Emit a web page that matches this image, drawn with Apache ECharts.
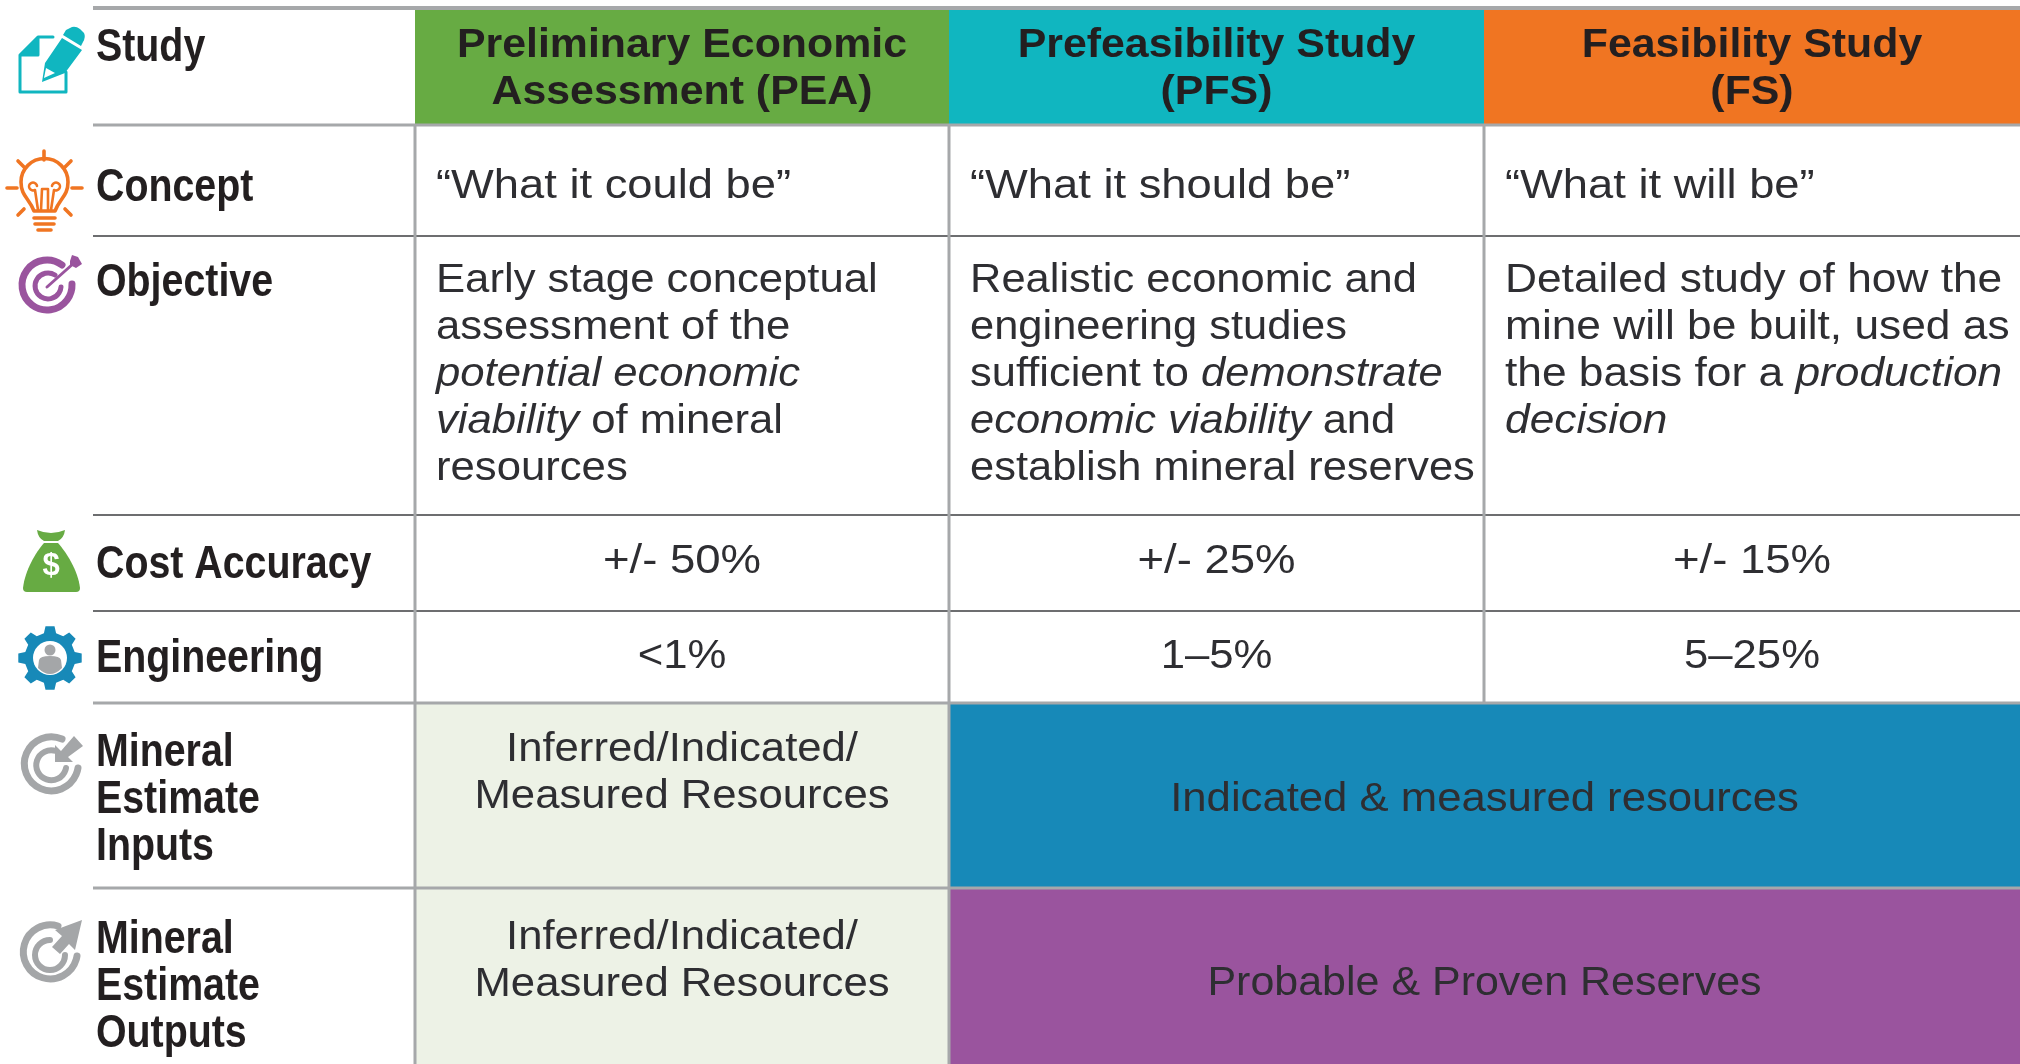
<!DOCTYPE html>
<html lang="en">
<head>
<meta charset="UTF-8">
<title>Study stages</title>
<script src="https://cdn.jsdelivr.net/npm/echarts@6/dist/echarts.min.js"></script>
<style>html,body{margin:0;padding:0;background:#fff}#main{width:2020px;height:1064px}</style>
</head>
<body>
<div id="main"></div>
<script>
var columns = ['Study', 'PEA', 'PFS', 'FS'];
var rows = ['Study', 'Concept', 'Objective', 'Cost Accuracy', 'Engineering', 'Mineral Estimate Inputs', 'Mineral Estimate Outputs'];
var rowTitles = ['Study', 'Concept', 'Objective', 'Cost Accuracy', 'Engineering', 'Mineral\nEstimate\nInputs', 'Mineral\nEstimate\nOutputs'];
var headers = ['Preliminary Economic\nAssessment (PEA)', 'Prefeasibility Study\n(PFS)', 'Feasibility Study\n(FS)'];
var concept = ['\u201cWhat it could be\u201d', '\u201cWhat it should be\u201d', '\u201cWhat it will be\u201d'];
var objective = [
    'Early stage conceptual\nassessment of the\n{i|potential economic}\n{i|viability} of mineral\nresources',
    'Realistic economic and\nengineering studies\nsufficient to {i|demonstrate}\n{i|economic viability} and\nestablish mineral reserves',
    'Detailed study of how the\nmine will be built, used as\nthe basis for a {i|production}\n{i|decision}'
];
var costAccuracy = ['+/- 50%', '+/- 25%', '+/- 15%'];
var engineering = ['<1%', '1\u20135%', '5\u201325%'];
var peaEstimate = 'Inferred/Indicated/\nMeasured Resources';
var inputsLater = 'Indicated & measured resources';
var outputsLater = 'Probable & Proven Reserves';

// layout, px
var colSize = [322, 534, 535, 536];
var rowSize = [117, 111, 279, 96, 92, 185, 176];
var GREY = '#a6a8aa', DARK = '#6d6e70', INK = '#231f20', TEXT = '#2e2e32';
var headFills = ['#67ab43', '#10b6c0', '#f07522'];

var bodyData = [];
headFills.forEach(function (c, i) {
    bodyData.push({coord: [i + 1, 0], itemStyle: {color: c, borderWidth: 0}});
});
bodyData.push({coord: [1, 5], itemStyle: {color: '#edf2e6', borderWidth: 0}});
bodyData.push({coord: [1, 6], itemStyle: {color: '#edf2e6', borderWidth: 0}});
bodyData.push({coord: [[2, 3], 5], mergeCells: true, itemStyle: {color: '#1789b8', borderWidth: 0}});
bodyData.push({coord: [[2, 3], 6], mergeCells: true, itemStyle: {color: '#9a549e', borderWidth: 0}});

// horizontal rules: row index, width, colour
var hRules = [[0, 4, GREY], [1, 3, GREY], [2, 2, DARK], [3, 2, DARK], [4, 2, DARK], [5, 3, GREY], [6, 3, GREY]];
// vertical rules: column index, first row, last row
var vRules = [[1, 1, 6], [2, 1, 6], [3, 1, 4]];

// text blocks: col range, row, text, kind, offset from cell top, width scale
var texts = [];
var titleTops = [16.5, 40, 24, 27, 25, 27, 29];
var objectiveScale = [1.065, 1.06, 1.08];
rowTitles.forEach(function (t, i) { texts.push({c0: 0, c1: 0, r: i, text: t, kind: 'title', top: titleTops[i]}); });
headers.forEach(function (t, i) { texts.push({c0: i + 1, c1: i + 1, r: 0, text: t, kind: 'head', top: 14.5}); });
concept.forEach(function (t, i) { texts.push({c0: i + 1, c1: i + 1, r: 1, text: t, kind: 'left', top: 38.5, scale: 1.105}); });
objective.forEach(function (t, i) { texts.push({c0: i + 1, c1: i + 1, r: 2, text: t, kind: 'left', top: 21.5, scale: objectiveScale[i]}); });
costAccuracy.forEach(function (t, i) { texts.push({c0: i + 1, c1: i + 1, r: 3, text: t, kind: 'mid', top: 23.5, scale: 1.11}); });
engineering.forEach(function (t, i) { texts.push({c0: i + 1, c1: i + 1, r: 4, text: t, kind: 'mid', top: 22.5}); });
texts.push({c0: 1, c1: 1, r: 5, text: peaEstimate, kind: 'mid', top: 23.5});
texts.push({c0: 1, c1: 1, r: 6, text: peaEstimate, kind: 'mid', top: 26.5});
texts.push({c0: 2, c1: 3, r: 5, text: inputsLater, kind: 'mid', top: 73.5});
texts.push({c0: 2, c1: 3, r: 6, text: outputsLater, kind: 'mid', top: 72.5, scale: 1.048});

var kinds = {
    title: {align: 'left', dx: 3, scaleX: 0.855, fontSize: 46, fontWeight: 'bold', color: INK, lineHeight: 47},
    head: {align: 'center', dx: 0, scaleX: 1.045, fontSize: 41, fontWeight: 'bold', color: INK, lineHeight: 47},
    left: {align: 'left', dx: 21, scaleX: 1.065, fontSize: 41, fontWeight: 'normal', color: TEXT, lineHeight: 47},
    mid: {align: 'center', dx: 0, scaleX: 1.065, fontSize: 41, fontWeight: 'normal', color: TEXT, lineHeight: 47}
};

function textEl(t, api) {
    var k = kinds[t.kind];
    var a = api.layout([t.c0, t.r]).rect, b = api.layout([t.c1, t.r]).rect;
    var right = b.x + b.width;
    var font = {fontFamily: '"Liberation Sans"', fontSize: k.fontSize, lineHeight: k.lineHeight, fill: k.color};
    return {
        type: 'text',
        x: k.align === 'center' ? (a.x + right) / 2 : a.x + k.dx,
        y: a.y + t.top,
        scaleX: t.scale || k.scaleX,
        style: Object.assign({}, font, {
            x: 0, y: 0, text: t.text, align: k.align, verticalAlign: 'top', fontWeight: k.fontWeight,
            rich: {i: Object.assign({}, font, {fontStyle: 'italic'})}
        })
    };
}

// icons
var TEAL = '#10b6c0', ORANGE = '#f07522', PURPLE = '#9a549e', LEAF = '#67ab43', BLUE = '#1789b8', ICON = '#a4a6a8';
function stroke(c, w) { return {stroke: c, lineWidth: w, fill: 'none', lineCap: 'round', lineJoin: 'round'}; }
function path(d, style) { return {type: 'path', shape: {pathData: d}, style: style}; }
function gearPath(cx, cy, ro, ri) {
    var d = '', n = 8;
    for (var k = 0; k < n; k++) {
        var a = k * 2 * Math.PI / n - Math.PI / 2, s = Math.PI / n;
        var pts = [[ri, a - s * 0.62], [ro, a - s * 0.36], [ro, a + s * 0.36], [ri, a + s * 0.62]];
        pts.forEach(function (p, j) {
            d += (k === 0 && j === 0 ? 'M' : 'L') + (cx + p[0] * Math.cos(p[1])).toFixed(1) + ' ' + (cy + p[0] * Math.sin(p[1])).toFixed(1);
        });
    }
    return d + 'Z';
}
var icons = [
    // study
    path('M38 37L53 37M20 55L20 92L66 92L66 72M20 55L38 37L38 55Z', stroke(TEAL, 3)),
    path('M20 55L38 37L38 55Z', {fill: TEAL}),
    path('M62 38L82 50L65 73L45 63Z M45 63L65 73L42 82Z', {fill: TEAL}),
    path('M66 30L72 27Q76 26 80 29L84 33Q86 37 83 42L81 46L63 35Z', {fill: TEAL}),
    path('M46 68L55 73L44 78Z', {fill: '#fff'}),
    // bulb
    path('M34 211C29 198 21 196 21 182A23.5 23.5 0 1 1 68 182C68 196 60 198 55 211Z M34 218L55 218 M35 224L54 224 M38 230L51 230', stroke(ORANGE, 3.6)),
    path('M38 210L35 190M51 210L54 190M41 210L42 189L48 189M48 189L48 210M35 190A4 4 0 1 1 37 186M54 190A4 4 0 1 0 52 186', stroke(ORANGE, 2.6)),
    path('M44 151L44 160M18 161L24 167M71 161L65 167M7 188L17 188M72 188L82 188M18 215L24 209M71 215L65 209', stroke(ORANGE, 3.6)),
    // target
    path('M62 265A25 25 0 1 0 72 284', stroke(PURPLE, 7)),
    path('M55 275A13 13 0 1 0 61 287', stroke(PURPLE, 5)),
    path('M47 287L74 263', stroke(PURPLE, 3)),
    path('M70 261L72 255L78 257L82 264L76 268L70 265Z', {fill: PURPLE}),
    // money bag
    path('M37 530Q51 536 65 530Q64 538 58 541L44 541Q38 538 37 530Z', {fill: LEAF}),
    path('M44 543L58 543C66 552 78 570 80 588Q80 592 76 592L27 592Q23 592 23 588C25 570 36 552 44 543Z', {fill: LEAF}),
    {type: 'text', style: {x: 51, y: 566, text: '$', align: 'center', verticalAlign: 'middle', fill: '#fff',
        font: 'bold 31px "Liberation Sans"'}},
    // gear
    path(gearPath(50, 658, 32, 25.5), {fill: BLUE}),
    {type: 'circle', shape: {cx: 50, cy: 658, r: 17}, style: {fill: '#fff'}},
    {type: 'circle', shape: {cx: 50, cy: 650, r: 5.5}, style: {fill: ICON}},
    path('M38 668L39 660Q40 656 50 656Q60 656 61 660L62 668Q56 674 50 674Q44 674 38 668Z', {fill: ICON}),
    // inputs
    path('M62 739A27 27 0 1 0 78 768', stroke(ICON, 7)),
    path('M56 751A15 15 0 1 0 66 768', stroke(ICON, 6)),
    path('M55 762L55 745L61 751L74 736L83 746L68 757L73 762Z', {fill: ICON}),
    // outputs
    path('M58 926A27 27 0 1 0 77 956', stroke(ICON, 7)),
    path('M50 940A15 15 0 1 0 65 955', stroke(ICON, 6)),
    path('M82 920L75 950L69 944L60 954L52 947L62 936L55 930Z', {fill: ICON})
];

function renderTable(params, api) {
    var children = [];
    hRules.forEach(function (r) {
        var a = api.layout([0, r[0]]).rect, b = api.layout([3, r[0]]).rect;
        children.push({type: 'line', shape: {x1: a.x, y1: a.y, x2: b.x + b.width, y2: a.y},
            style: {stroke: r[2], lineWidth: r[1]}});
    });
    vRules.forEach(function (r) {
        var a = api.layout([r[0], r[1]]).rect, b = api.layout([r[0], r[2]]).rect;
        children.push({type: 'line', shape: {x1: a.x, y1: a.y, x2: a.x, y2: b.y + b.height},
            style: {stroke: GREY, lineWidth: 3}});
    });
    texts.forEach(function (t) { children.push(textEl(t, api)); });
    return {type: 'group', children: children.concat(icons)};
}

var option = {
    animation: false,
    backgroundColor: '#fff',
    matrix: {
        left: 93, top: 8, width: 1927, height: 1056,
        x: {show: false, data: columns.map(function (n, i) { return {value: n, size: colSize[i]}; })},
        y: {show: false, data: rows.map(function (n, i) { return {value: n, size: rowSize[i]}; })},
        corner: {show: false},
        backgroundStyle: {color: 'transparent', borderWidth: 0},
        body: {
            data: bodyData,
            itemStyle: {color: 'transparent', borderWidth: 0},
            label: {show: false}
        }
    },
    series: [{
        type: 'custom',
        coordinateSystem: 'matrix',
        silent: true,
        z: 5,
        data: [[0, 0]],
        renderItem: renderTable
    }]
};
var myChart = echarts.init(document.getElementById('main'));
myChart.setOption(option);
</script>
</body>
</html>
